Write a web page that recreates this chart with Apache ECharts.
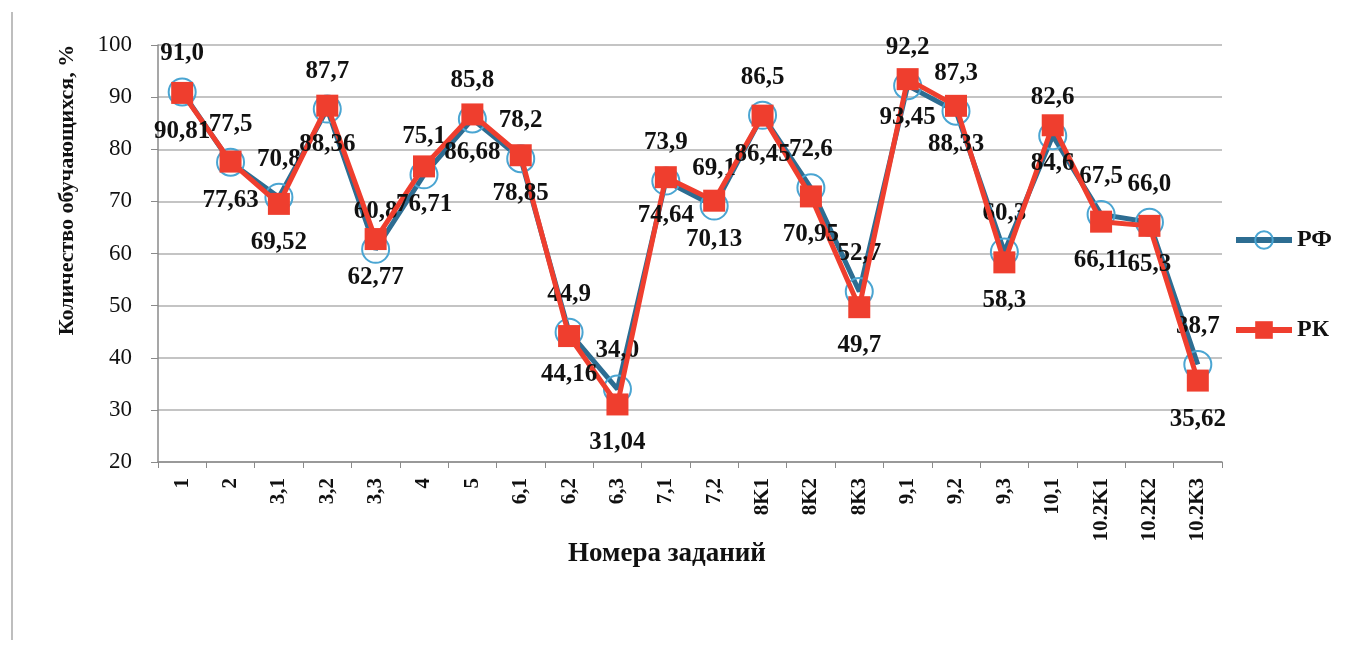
<!DOCTYPE html>
<html>
<head>
    <meta charset="utf-8">
    <title>РФ / РК</title>
    <script src="https://cdn.jsdelivr.net/npm/echarts@6/dist/echarts.min.js"></script>
    <style>
        html, body { margin: 0; padding: 0; background: #fff; }
        #main { width: 1363px; height: 647px; }
    </style>
</head>
<body>
<div id="main"></div>
<script>
    // номера заданий
    var categories = ['1', '2', '3,1', '3,2', '3,3', '4', '5', '6,1', '6,2', '6,3', '7,1', '7,2',
        '8K1', '8K2', '8K3', '9,1', '9,2', '9,3', '10,1', '10.2K1', '10.2K2', '10.2K3'];
    // РФ
    var rfValues = [91.0, 77.5, 70.8, 87.7, 60.8, 75.1, 85.8, 78.2, 44.9, 34.0, 73.9, 69.1,
        86.5, 72.6, 52.7, 92.2, 87.3, 60.3, 82.6, 67.5, 66.0, 38.7];
    // РК
    var rkValues = [90.81, 77.63, 69.52, 88.36, 62.77, 76.71, 86.68, 78.85, 44.16, 31.04, 74.64, 70.13,
        86.45, 70.95, 49.7, 93.45, 88.33, 58.3, 84.6, 66.11, 65.3, 35.62];
    var yTicks = [20, 30, 40, 50, 60, 70, 80, 90, 100];

    var serif = '"Liberation Serif", "Times New Roman", serif';

    var chart = echarts.init(document.getElementById('main'));
    var options = {
        backgroundColor: '#fff',
        animation: false,
        grid: {
            left: 158,
            right: 141,
            top: 45,
            bottom: 185
        },
        legend: {
            orient: 'vertical',
            left: 1228,
            top: 223,
            itemWidth: 56,
            itemHeight: 22,
            itemGap: 66,
            lineStyle: {width: 6},
            textStyle: {
                fontFamily: serif,
                fontSize: 24,
                fontWeight: 'bold',
                color: '#111'
            },
            data: ['РФ', 'РК']
        },
        graphic: [
            // рамка скана слева
            {
                type: 'line',
                shape: {x1: 12, y1: 12, x2: 12, y2: 640},
                style: {stroke: '#a8a8a8', lineWidth: 1.5}
            },
            {
                type: 'text',
                x: 67,
                y: 190,
                rotation: Math.PI / 2,
                style: {
                    text: 'Количество обучающихся, %',
                    fontFamily: serif,
                    fontSize: 22,
                    fontWeight: 'bold',
                    fill: '#111',
                    align: 'center',
                    verticalAlign: 'middle'
                }
            },
            {
                type: 'text',
                x: 667,
                y: 554,
                style: {
                    text: 'Номера заданий',
                    fontFamily: serif,
                    fontSize: 27,
                    fontWeight: 'bold',
                    fill: '#111',
                    align: 'center',
                    verticalAlign: 'middle'
                }
            }
        ],
        xAxis: {
            type: 'category',
            data: categories,
            boundaryGap: true,
            axisLine: {lineStyle: {color: '#8a8a8a', width: 1.5}},
            axisTick: {show: true, length: 6, lineStyle: {color: '#8a8a8a'}},
            axisLabel: {
                rotate: 90,
                interval: 0,
                margin: 16,
                fontFamily: serif,
                fontSize: 21,
                fontWeight: 'bold',
                color: '#111'
            }
        },
        yAxis: {
            type: 'value',
            min: yTicks[0],
            max: yTicks[yTicks.length - 1],
            interval: 10,
            axisLine: {show: true, lineStyle: {color: '#8a8a8a', width: 1.5}},
            axisTick: {show: true, length: 7, lineStyle: {color: '#8a8a8a'}},
            splitLine: {lineStyle: {color: '#b0b0b0', width: 1.5}},
            axisLabel: {
                margin: 26,
                fontFamily: serif,
                fontSize: 23,
                color: '#111'
            }
        },
        series: [
            {
                name: 'РФ',
                type: 'line',
                data: rfValues,
                symbol: 'circle',
                symbolSize: 27,
                z: 2,
                lineStyle: {color: '#2d6d92', width: 5},
                itemStyle: {color: 'rgba(255,255,255,0)', borderColor: '#4aa5d2', borderWidth: 2},
                label: {
                    show: true,
                    position: 'top',
                    distance: 11,
                    fontFamily: serif,
                    fontSize: 25,
                    fontWeight: 'bold',
                    color: '#111',
                    formatter: function (p) {
                        return p.value.toFixed(1).replace('.', ',')
                    }
                }
            },
            {
                name: 'РК',
                type: 'line',
                data: rkValues,
                symbol: 'rect',
                symbolSize: 22,
                z: 3,
                lineStyle: {color: '#ef3e2e', width: 5},
                itemStyle: {color: '#ef3e2e'},
                label: {
                    show: true,
                    position: 'bottom',
                    distance: 15,
                    fontFamily: serif,
                    fontSize: 25,
                    fontWeight: 'bold',
                    color: '#111',
                    formatter: function (p) {
                        return String(p.value).replace('.', ',')
                    }
                }
            }
        ]
    };
    chart.setOption(options);
</script>
</body>
</html>
